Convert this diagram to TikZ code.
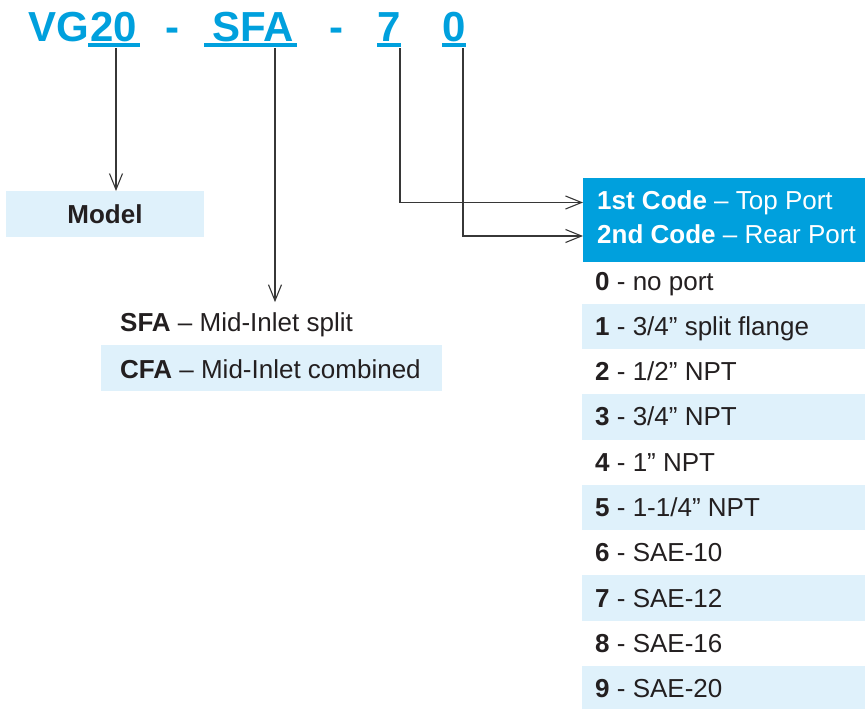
\documentclass[tikz,border=0pt]{standalone}
\usepackage{fontspec}
\setmainfont{Liberation Sans}
\usetikzlibrary{arrows.meta}
\definecolor{tblue}{RGB}{0,160,221}
\definecolor{lblue}{RGB}{223,241,251}
\definecolor{ink}{RGB}{35,31,32}
\definecolor{wire}{RGB}{55,55,55}
\begin{document}
\begin{tikzpicture}[x=1pt,y=-1pt,
  title/.style={font=\fontsize{42}{42}\selectfont\bfseries, text=tblue, inner sep=0pt, anchor=base},
  uline/.style={fill=tblue, inner sep=0pt, minimum height=4pt, anchor=north west},
  band/.style={fill=lblue, inner sep=0pt, anchor=north west},
  lbl/.style={font=\fontsize{26}{26}\selectfont, text=ink, inner sep=0pt, anchor=base west},
  hlbl/.style={font=\fontsize{26}{26}\selectfont, text=white, inner sep=0pt, anchor=base west},
  conn/.style={draw=wire, line width=1.1pt, -{Straight Barb[length=16pt,width=13pt,line width=1.1pt]}}
]
\useasboundingbox (0,0) rectangle (865,709);

% title
\node[title, anchor=base west] (tvg) at (28,41.3) {VG};
\node[title] (t20) at (114,41.3) {20};
\node[title] (td1) at (172.5,41.3) {-};
\node[title] (tsfa) at (253,41.3) {SFA};
\node[title] (td2) at (336.5,41.3) {-};
\node[title] (t7) at (389,41.3) {7};
\node[title] (t0) at (454,41.3) {0};
\node[uline, minimum width=52pt] (u20) at (88,43.3) {};
\node[uline, minimum width=93pt] (usfa) at (204,43.3) {};
\node[uline, minimum width=24pt] (u7) at (377,43.3) {};
\node[uline, minimum width=24pt] (u0) at (442,43.3) {};

\coordinate (s20) at (116,48);
\coordinate (ssfa) at (275,48);
\coordinate (s7) at (400,48);
\coordinate (s0) at (463,48);

% model
\node[band, minimum width=198pt, minimum height=46pt] (model) at (6,191) {};
\node[font=\fontsize{26}{26}\selectfont\bfseries, text=ink, inner sep=0pt, anchor=base] (modeltxt) at (105,223.5) {Model};

% SFA / CFA
\node[band, minimum width=341pt, minimum height=46pt] (cfaband) at (101,345) {};
\node[lbl] (sfa) at (120,331.7) {\textbf{SFA} – Mid-Inlet split};
\node[lbl] (cfa) at (120,378) {\textbf{CFA} – Mid-Inlet combined};

% header
\node[fill=tblue, inner sep=0pt, anchor=north west, minimum width=282pt, minimum height=84pt] (hdr) at (583,178) {};
\node[hlbl] (h1) at (597,209) {\textbf{1st Code} – Top Port};
\node[hlbl] (h2) at (597,243) {\textbf{2nd Code} – Rear Port};

% list bands (odd rows)
\node[band, minimum width=283pt, minimum height=45.5pt] (b1) at (582,303.3) {};
\node[band, minimum width=283pt, minimum height=45.5pt] (b3) at (582,393.9) {};
\node[band, minimum width=283pt, minimum height=45.5pt] (b5) at (582,484.5) {};
\node[band, minimum width=283pt, minimum height=45.5pt] (b7) at (582,575.1) {};
\node[band, minimum width=283pt, minimum height=45.5pt] (b9) at (582,665.7) {};

\node[lbl] (r0) at (595,290.0) {\textbf{0} - no port};
\node[lbl] (r1) at (595,335.3) {\textbf{1} - 3/4” split flange};
\node[lbl] (r2) at (595,380.6) {\textbf{2} - 1/2” NPT};
\node[lbl] (r3) at (595,425.9) {\textbf{3} - 3/4” NPT};
\node[lbl] (r4) at (595,471.2) {\textbf{4} - 1” NPT};
\node[lbl] (r5) at (595,516.5) {\textbf{5} - 1-1/4” NPT};
\node[lbl] (r6) at (595,561.8) {\textbf{6} - SAE-10};
\node[lbl] (r7) at (595,607.1) {\textbf{7} - SAE-12};
\node[lbl] (r8) at (595,652.4) {\textbf{8} - SAE-16};
\node[lbl] (r9) at (595,697.7) {\textbf{9} - SAE-20};

% connectors
\path (h1.base -| hdr.west) ++(0,-6.5) coordinate (a1);
\path (h2.base -| hdr.west) ++(0,-7) coordinate (a2);
\path (sfa.north -| ssfa) ++(0,-10.5) coordinate (asfa);
\draw[conn] (s20) -- (s20 |- model.north);
\draw[conn] (ssfa) -- (asfa);
\draw[conn] (s7) |- (a1);
\draw[conn] (s0) |- (a2);
\end{tikzpicture}
\end{document}
